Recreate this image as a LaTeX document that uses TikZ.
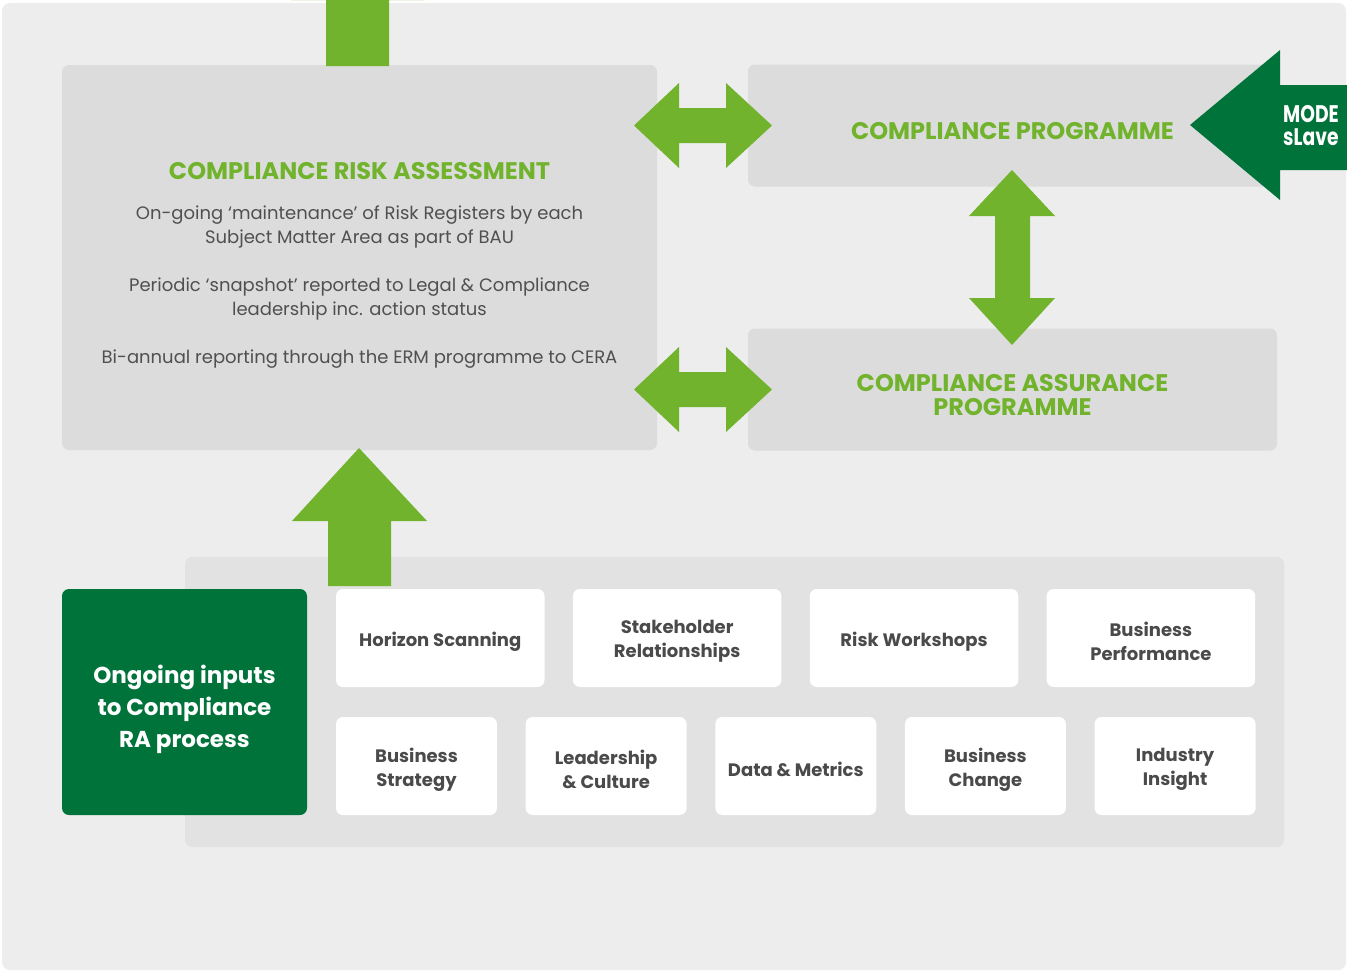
\documentclass[tikz,border=0pt]{standalone}
\usepackage{fontspec}
\setmainfont{Poppins}
\newfontfamily\narrowfont[FakeStretch=0.78]{Poppins}
\usetikzlibrary{positioning}
\definecolor{bgcol}{HTML}{EDEDED}
\definecolor{panelcol}{HTML}{DCDCDC}
\definecolor{traycol}{HTML}{E2E2E2}
\definecolor{litegreen}{HTML}{72B32D}
\definecolor{darkgreen}{HTML}{00733B}
\definecolor{bodytext}{HTML}{505050}
\definecolor{tiletext}{HTML}{4A4A4A}
\tikzset{
  panel/.style={
    rounded corners=7pt,
    fill=panelcol,
    inner sep=0pt
  },
  heading/.style={
    text=litegreen,
    font=\fontsize{24}{24}\selectfont\bfseries,
    align=center
  },
  tile/.style={
    rounded corners=7pt,
    fill=white,
    minimum height=98pt,
    inner sep=0pt,
    label={[text=tiletext, align=center, yshift=-3.5pt,
      font=\fontsize{18}{24}\selectfont\bfseries]center:#1}
  }
}

\begin{document}
\begin{tikzpicture}[x=1pt,y=-1pt]
      \useasboundingbox (0,0) rectangle (1347,972);
      \begin{scope}
      \clip (0,0) rectangle (1347,972);
      \fill[white] (0,0) rectangle (1347,972);
      \fill[bgcol,rounded corners=8pt] (2,3) rectangle (1346,970);

      % upper panels
      \node [panel, minimum width=595pt, minimum height=385pt] (Assess) at (359.5,257.5) {};
      \node [panel, minimum width=529pt, minimum height=122pt] (Prog) at (1012.5,125.5) {};
      \node [panel, minimum width=529pt, minimum height=122pt] (Assure) at (1012.5,389.5) {};

      \node [heading] (AssessTitle) at (359.5,171) {COMPLIANCE RISK ASSESSMENT};
      \node [align=center, text=bodytext, font=\fontsize{18}{24}\selectfont]
      (AssessText) at (359.5,287)
      {On-going ‘maintenance’ of Risk Registers by each\\
       Subject Matter Area as part of BAU\\[24pt]
       Periodic ‘snapshot’ reported to Legal \& Compliance\\
       leadership inc. action status\\[24pt]
       Bi-annual reporting through the ERM programme to CERA};
      \node [heading] (ProgTitle) at (1012.5,131) {COMPLIANCE PROGRAMME};
      \node [heading] (AssureTitle) at (1012.5,395) {COMPLIANCE ASSURANCE\\PROGRAMME};

      % block arrows between the panels
      \fill[litegreen] (634,125.5) -- (679,83) -- (679,108) -- (726,108) -- (726,83)
        -- (772,125.5) -- (726,168) -- (726,143) -- (679,143) -- (679,168) -- cycle;
      \fill[litegreen] (634,389.5) -- (679,347) -- (679,372) -- (726,372) -- (726,347)
        -- (772,389.5) -- (726,432) -- (726,407) -- (679,407) -- (679,432) -- cycle;
      \fill[litegreen] (1012,170) -- (1055,216) -- (1030,216) -- (1030,298) -- (1055,298)
        -- (1012,345) -- (969,298) -- (995,298) -- (995,216) -- (969,216) -- cycle;
      \fill[litegreen] (326,66) -- (389,66) -- (389,0) -- (424,0) -- (357.5,-67)
        -- (291,0) -- (326,0) -- cycle;

      % model slavery arrow
      \fill[darkgreen] (1190,125) -- (1280,50) -- (1280,85) -- (1360,85) -- (1360,170)
        -- (1280,170) -- (1280,200) -- cycle;
      \node [anchor=west, text=white, align=left, inner sep=0pt,
      font=\narrowfont\fontsize{24}{23}\selectfont\bfseries] (Slave) at (1283,126) {MODE\\sLave};

      % inputs tray
      \fill[traycol,rounded corners=7pt] (185,557) rectangle (1284,847);
      \fill[litegreen] (328,586) -- (391,586) -- (391,521) -- (427,521) -- (359,448)
        -- (292,521) -- (328,521) -- cycle;
      \node [panel, fill=darkgreen, minimum width=245pt, minimum height=226pt] (InputsBox) at (184.5,702) {};
      \node [text=white, align=center, font=\fontsize{23}{32}\selectfont\bfseries]
      (Inputs) at ([yshift=-7pt]InputsBox.center) {Ongoing inputs\\to Compliance\\RA process};

      \node [tile={Horizon Scanning}, minimum width=208.5pt] (Horizon) at (440.25,638) {};
      \node [tile={Stakeholder\\Relationships}, minimum width=208.5pt, right=28pt of Horizon] (Stake) {};
      \node [tile={Risk Workshops}, minimum width=208.5pt, right=28pt of Stake] (Workshops) {};
      \node [tile={Business\\Performance}, minimum width=208.5pt, right=28pt of Workshops] (Perf) {};

      \node [tile={Business\\Strategy}, minimum width=161pt] (Strategy) at (416.5,766) {};
      \node [tile={Leadership\\\& Culture}, minimum width=161pt, right=28.25pt of Strategy] (Culture) {};
      \node [tile={Data \& Metrics}, minimum width=161pt, right=28.25pt of Culture] (Metrics) {};
      \node [tile={Business\\Change}, minimum width=161pt, right=28.25pt of Metrics] (Change) {};
      \node [tile={Industry\\Insight}, minimum width=161pt, right=28.25pt of Change] (Insight) {};
      \end{scope}
    \end{tikzpicture}
\end{document}
